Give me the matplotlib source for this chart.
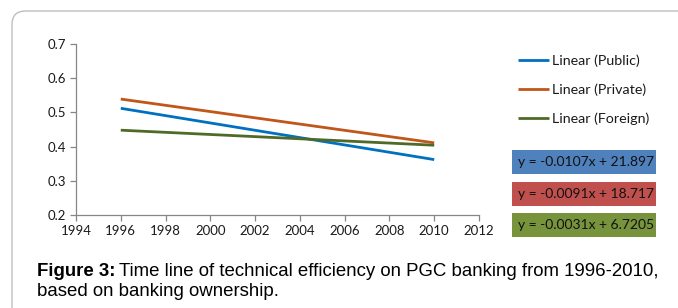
import matplotlib
matplotlib.use("Agg")
import matplotlib.pyplot as plt
from matplotlib.patches import FancyBboxPatch, Rectangle

# trend lines (start and end of each line)
years = [1996, 2010]
public = [0.512, 0.362]
private = [0.539, 0.411]
foreign = [0.448, 0.404]
labels = ["Linear (Public)", "Linear (Private)", "Linear (Foreign)"]
equations = ["y = -0.0107x + 21.897", "y = -0.0091x + 18.717", "y = -0.0031x + 6.7205"]
xticks = list(range(1994, 2013, 2))
yticks = [0.2, 0.3, 0.4, 0.5, 0.6, 0.7]

line_colors = ["#0070C0", "#C0561A", "#4F6A28"]
box_colors = ["#4F81BD", "#C0504D", "#77933C"]
tick_font = "Lato"

W, H = 678, 308
fig = plt.figure(figsize=(W / 100, H / 100), dpi=100)

def fx(px):
    return px / W

def fy(py):
    return 1 - py / H

# chart frame (rounded, runs off the right and bottom edges)
frame = FancyBboxPatch((fx(12), fy(330)), fx(720 - 12), (330 - 11) / H,
                       boxstyle="round,pad=0,rounding_size=0.02",
                       transform=fig.transFigure, fc="none", ec="#BFBFBF", lw=1.0,
                       mutation_aspect=W / H)
fig.patches.append(frame)

ax = fig.add_axes([fx(76), fy(215), fx(479 - 76), (215 - 44) / H])
for vals, c, lab in zip([public, private, foreign], line_colors, labels):
    ax.plot(years, vals, color=c, lw=2.0, label=lab, solid_capstyle="butt")

ax.set_xlim(1994, 2012)
ax.set_ylim(0.2, 0.7)
ax.set_xticks(xticks)
ax.set_yticks(yticks)
ax.set_yticklabels(["%.1f" % v for v in yticks])
for s in ["top", "right"]:
    ax.spines[s].set_visible(False)
for s in ["left", "bottom"]:
    ax.spines[s].set_color("#868686")
    ax.spines[s].set_linewidth(0.9)
ax.tick_params(length=4, width=0.9, color="#868686", labelsize=9.5, pad=3)
for t in ax.get_xticklabels() + ax.get_yticklabels():
    t.set_fontfamily(tick_font)
    t.set_color("#1A1A1A")
ax.patch.set_visible(False)

leg = fig.legend(*ax.get_legend_handles_labels(), loc="upper left",
                 bbox_to_anchor=(fx(518), fy(54)), frameon=False,
                 prop={"family": tick_font, "size": 10.3}, handlelength=2.2,
                 handletextpad=0.15, labelspacing=1.15, borderaxespad=0, borderpad=0)
for t in leg.get_texts():
    t.set_color("#1A1A1A")

# equation boxes
box_tops = [150, 182, 213]
for eq, c, top in zip(equations, box_colors, box_tops):
    fig.patches.append(Rectangle((fx(512), fy(top + 23.5)), fx(656 - 512), 23.5 / H,
                                 transform=fig.transFigure, fc=c, ec="none"))
    fig.text(fx(518), fy(top + 11.8), eq, family=tick_font, size=10, color="#111111",
             va="center", ha="left")

# caption
fig.canvas.draw()
r = fig.canvas.get_renderer()
cap_size = 13.4
t1 = fig.text(fx(37), fy(276), "Figure 3:", family="Liberation Sans", weight="bold",
              size=cap_size, va="baseline")
bb = t1.get_window_extent(r)
fig.text((bb.x1 + 4) / W, fy(276), "Time line of technical efficiency on PGC banking from 1996-2010,",
         family="Liberation Sans", size=cap_size, va="baseline")
fig.text(fx(37), fy(296), "based on banking ownership.", family="Liberation Sans",
         size=cap_size, va="baseline")

fig.savefig("out.png", dpi=100)
